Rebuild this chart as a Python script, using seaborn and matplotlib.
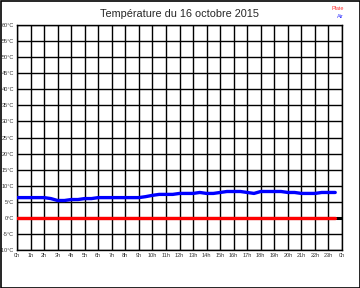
import matplotlib
matplotlib.use("Agg")
import matplotlib.pyplot as plt
import seaborn as sns
import pandas as pd
import numpy as np
from matplotlib.patches import Rectangle

sns.set_style("white")
plt.rcParams['font.family'] = ['Liberation Sans', 'DejaVu Sans']

hours = [i * 0.5 for i in range(48)]
air = [6.3, 6.3, 6.3, 6.3, 6.3, 6.0, 5.4, 5.4, 5.7, 5.7, 6.0, 6.0,
       6.3, 6.3, 6.3, 6.3, 6.3, 6.3, 6.3, 6.6, 7.0, 7.3, 7.3, 7.3,
       7.6, 7.6, 7.6, 7.9, 7.6, 7.6, 7.9, 8.2, 8.2, 8.2, 7.9, 7.6,
       8.2, 8.2, 8.2, 8.2, 7.9, 7.9, 7.6, 7.6, 7.6, 7.9, 7.9, 7.9]
plate = [0.0] * 48
y_ticks = list(range(-10, 61, 5))
x_ticks = list(range(0, 25))
x_labels = [f"{h % 24}h" for h in x_ticks]
y_labels = [f"{v}°C" for v in y_ticks]

df = pd.DataFrame({"h": hours, "Air": air, "Plate": plate})

fig = plt.figure(figsize=(3.6, 2.88), dpi=100)
ax = fig.add_axes([17/360, 1 - 250/288, 325/360, 225/288])

ax.set_xlim(0, 24)
ax.set_ylim(-10, 60)
ax.set_xticks(x_ticks)
ax.set_xticklabels(x_labels)
ax.set_yticks(y_ticks)
ax.set_yticklabels(y_labels)
ax.tick_params(length=0, labelsize=4, pad=2, colors="#333333")
ax.grid(True, color="black", linewidth=1.0)
ax.set_axisbelow(True)
for s in ax.spines.values():
    s.set_visible(True)
    s.set_color("black")
    s.set_linewidth(1.0)

ax.axhline(0, color="black", linewidth=2.2, zorder=2)
sns.lineplot(data=df, x="h", y="Plate", ax=ax, color="#ff0000", linewidth=2.4, zorder=3)
sns.lineplot(data=df, x="h", y="Air", ax=ax, color="#0000ff", linewidth=2.4, zorder=4)
ax.set_xlabel("")
ax.set_ylabel("")

fig.text(0.5, 1 - 14/288, "Température du 16 octobre 2015", ha="center", va="center", fontsize=7.8)
fig.text(344/360, 1 - 8/288, "Plate", ha="right", va="center", fontsize=4, color="#ff3333")
fig.text(344/360, 1 - 16/288, "Air", ha="right", va="center", fontsize=4, color="#3333ff")

fig.add_artist(Rectangle((0.5/360, 0.5/288), 359/360, 287/288, transform=fig.transFigure,
                         fill=False, edgecolor="black", linewidth=1.2))

fig.savefig("out.png", dpi=100)
